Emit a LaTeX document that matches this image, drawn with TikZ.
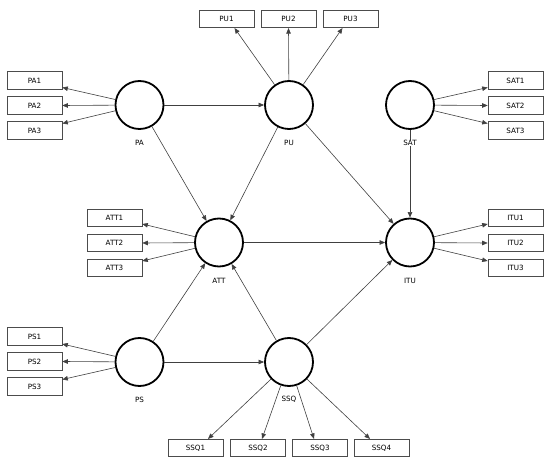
\documentclass[tikz,border=0pt]{standalone}
\usepackage{fontspec}
\setmainfont{DejaVu Sans}
\usetikzlibrary{arrows.meta}
\begin{document}
\begin{tikzpicture}[x=1pt,y=-1pt,
  lv/.style={circle, draw=black, line width=1.8pt, minimum size=48pt, inner sep=0pt},
  mv/.style={draw=black!70, line width=0.6pt, minimum width=55pt, minimum height=17.5pt, inner sep=0pt, font=\fontsize{7.2}{9}\selectfont},
  lbl/.style={inner sep=0.6pt, fill=white, font=\fontsize{7.2}{9}\selectfont},
  arr/.style={draw=black!75, line width=0.6pt, -{Triangle[length=5.5pt,width=4.5pt]}}]
\useasboundingbox (0,0) rectangle (550,468);
% latent variables
\node[lv] (PA) at (139.5,105) {};
\node[lv] (PU) at (289,105) {};
\node[lv] (SAT) at (410,105) {};
\node[lv] (ATT) at (219,242.5) {};
\node[lv] (ITU) at (410,242.5) {};
\node[lv] (PS) at (139.5,362) {};
\node[lv] (SSQ) at (289,362) {};
% indicators
\node[mv] (PA1) at (34.5,80.5) {PA1};
\node[mv] (PA2) at (34.5,105.5) {PA2};
\node[mv] (PA3) at (34.5,130.5) {PA3};
\node[mv] (PU1) at (226.5,19) {PU1};
\node[mv] (PU2) at (288.5,19) {PU2};
\node[mv] (PU3) at (350.5,19) {PU3};
\node[mv] (SAT1) at (515.5,80.5) {SAT1};
\node[mv] (SAT2) at (515.5,105.5) {SAT2};
\node[mv] (SAT3) at (515.5,130.5) {SAT3};
\node[mv] (ATT1) at (114.5,218) {ATT1};
\node[mv] (ATT2) at (114.5,243) {ATT2};
\node[mv] (ATT3) at (114.5,268) {ATT3};
\node[mv] (ITU1) at (515.5,218) {ITU1};
\node[mv] (ITU2) at (515.5,243) {ITU2};
\node[mv] (ITU3) at (515.5,268) {ITU3};
\node[mv] (PS1) at (34.5,336.5) {PS1};
\node[mv] (PS2) at (34.5,361.5) {PS2};
\node[mv] (PS3) at (34.5,386.5) {PS3};
\node[mv] (SSQ1) at (195.5,448) {SSQ1};
\node[mv] (SSQ2) at (258,448) {SSQ2};
\node[mv] (SSQ3) at (320,448) {SSQ3};
\node[mv] (SSQ4) at (381.5,448) {SSQ4};
% structural paths
\draw[arr] (PA) -- (PU);
\draw[arr] (PA) -- (ATT);
\draw[arr] (PU) -- (ATT);
\draw[arr] (PU) -- (ITU);
\draw[arr] (SAT) -- (ITU);
\draw[arr] (ATT) -- (ITU);
\draw[arr] (PS) -- (ATT);
\draw[arr] (PS) -- (SSQ);
\draw[arr] (SSQ) -- (ATT);
\draw[arr] (SSQ) -- (ITU);
% measurement paths
\draw[arr] (PA) -- ([yshift=-7pt]PA1.east);
\draw[arr] (PA) -- (PA2.east);
\draw[arr] (PA) -- ([yshift=7pt]PA3.east);
\draw[arr] (PU) -- ([xshift=8pt]PU1.south);
\draw[arr] (PU) -- (PU2.south);
\draw[arr] (PU) -- ([xshift=-8pt]PU3.south);
\draw[arr] (SAT) -- ([yshift=-7pt]SAT1.west);
\draw[arr] (SAT) -- (SAT2.west);
\draw[arr] (SAT) -- ([yshift=7pt]SAT3.west);
\draw[arr] (ATT) -- ([yshift=-6pt]ATT1.east);
\draw[arr] (ATT) -- (ATT2.east);
\draw[arr] (ATT) -- ([yshift=7pt]ATT3.east);
\draw[arr] (ITU) -- ([yshift=-6pt]ITU1.west);
\draw[arr] (ITU) -- (ITU2.west);
\draw[arr] (ITU) -- ([yshift=7pt]ITU3.west);
\draw[arr] (PS) -- ([yshift=-7.5pt]PS1.east);
\draw[arr] (PS) -- (PS2.east);
\draw[arr] (PS) -- ([yshift=7pt]PS3.east);
\draw[arr] (SSQ) -- ([xshift=12.5pt]SSQ1.north);
\draw[arr] (SSQ) -- ([xshift=4pt]SSQ2.north);
\draw[arr] (SSQ) -- ([xshift=-6pt]SSQ3.north);
\draw[arr] (SSQ) -- ([xshift=-11.5pt]SSQ4.north);
% labels
\node[lbl] (PAl) at (139.5,143) {PA};
\node[lbl] (PUl) at (289,143) {PU};
\node[lbl] (SATl) at (410,143) {SAT};
\node[lbl] (ATTl) at (219,281) {ATT};
\node[lbl] (ITUl) at (410,281) {ITU};
\node[lbl] (PSl) at (139.5,400) {PS};
\node[lbl] (SSQl) at (289,399) {SSQ};
\end{tikzpicture}
\end{document}
